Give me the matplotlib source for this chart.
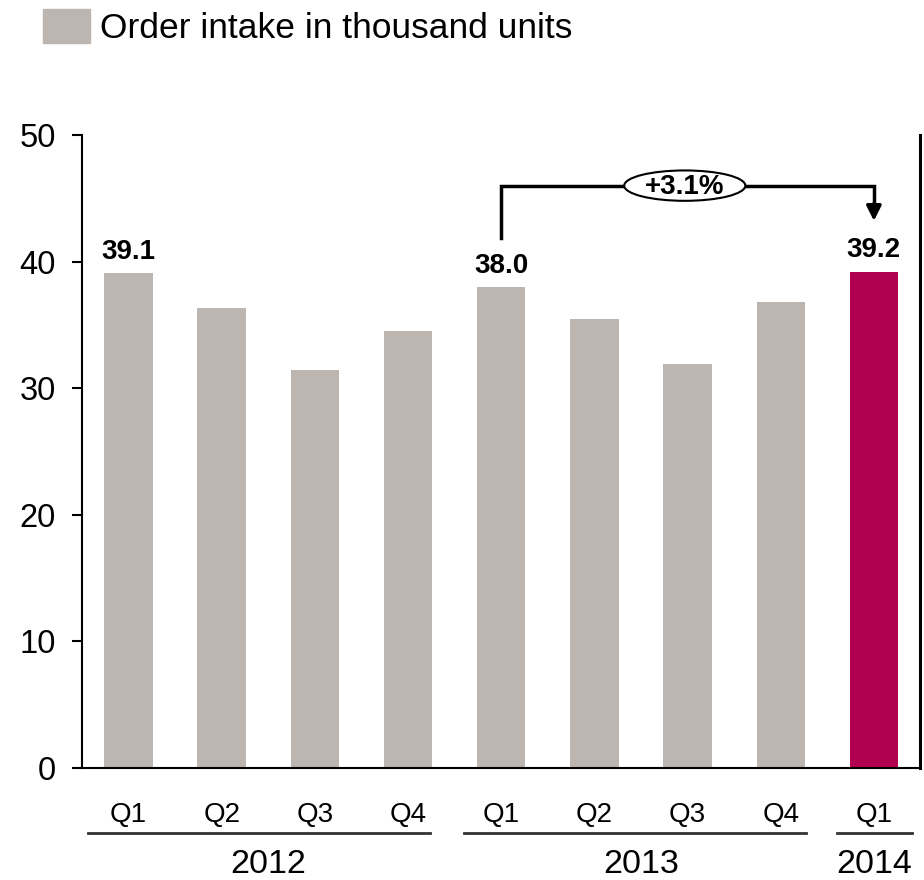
import matplotlib.pyplot as plt
from matplotlib.patches import Ellipse

plt.rcParams['font.family'] = ['Liberation Sans', 'DejaVu Sans']

# data
quarters = ['Q1', 'Q2', 'Q3', 'Q4', 'Q1', 'Q2', 'Q3', 'Q4', 'Q1']
years = ['2012', '2013', '2014']
year_groups = [(0, 3), (4, 7), (8, 8)]
orders = [39.1, 36.3, 31.4, 34.5, 38.0, 35.5, 31.9, 36.8, 39.2]
labelled = {0: '39.1', 4: '38.0', 8: '39.2'}
growth = '+3.1%'

grey = '#BDB5AF'
red = '#B0004F'
colors = [grey] * 8 + [red]

fig = plt.figure(figsize=(9.24, 8.8), dpi=100)
ax = fig.add_axes([0.0887, 0.1273, 0.9075, 0.7193])

x = list(range(len(orders)))
ax.bar(x, orders, width=0.52, color=colors)

ax.set_xlim(-0.5, 8.5)
ax.set_ylim(0, 50)
ax.set_yticks([0, 10, 20, 30, 40, 50])
ax.tick_params(axis='y', labelsize=23.5, length=7, width=1.5, pad=12)
ax.set_xticks([])
ax.spines['top'].set_visible(False)
for s in ['left', 'right', 'bottom']:
    ax.spines[s].set_linewidth(1.5)
ax.spines['right'].set_linewidth(2.2)

# value labels
for i, txt in labelled.items():
    ax.annotate(txt, (i, orders[i]), xytext=(0, 6), textcoords='offset points',
                ha='center', va='bottom', fontsize=20, fontweight='bold')

# growth bracket
ax.plot([4, 4, 8, 8], [41.9, 46.0, 46.0, 44.6], color='black', lw=2.5, solid_joinstyle='miter')
ax.annotate('', xy=(8, 43.0), xytext=(8, 44.8),
            arrowprops=dict(arrowstyle='-|>', color='black', lw=2.5, mutation_scale=22))
ax.add_patch(Ellipse((5.97, 46.0), 1.30, 2.4, facecolor='white', edgecolor='black', lw=1.5, zorder=3))
ax.text(5.97, 45.9, growth, ha='center', va='center', fontsize=20, fontweight='bold', zorder=4)

# category labels
tr = ax.get_xaxis_transform()
for i, q in enumerate(quarters):
    ax.text(i, -0.074, q, transform=tr, ha='center', va='center', fontsize=20, clip_on=False)
line_pad = [(0.43, 0.24), (0.4, 0.27), (0.4, 0.41)]
for yr, (a, b), (pl, pr) in zip(years, year_groups, line_pad):
    ax.plot([a - pl, b + pr], [-0.103, -0.103], transform=tr, color='#333333', lw=2, clip_on=False)
    ax.text((a + b) / 2, -0.153, yr, transform=tr, ha='center', va='center', fontsize=24.5, clip_on=False)

# legend
fig.patches.append(plt.Rectangle((43 / 924, 1 - 43 / 880), 47 / 924, 34 / 880,
                                 transform=fig.transFigure, color=grey))
fig.text(100 / 924, 1 - 28 / 880, 'Order intake in thousand units', fontsize=25.5, va='center')

fig.savefig('out.png', dpi=100)
